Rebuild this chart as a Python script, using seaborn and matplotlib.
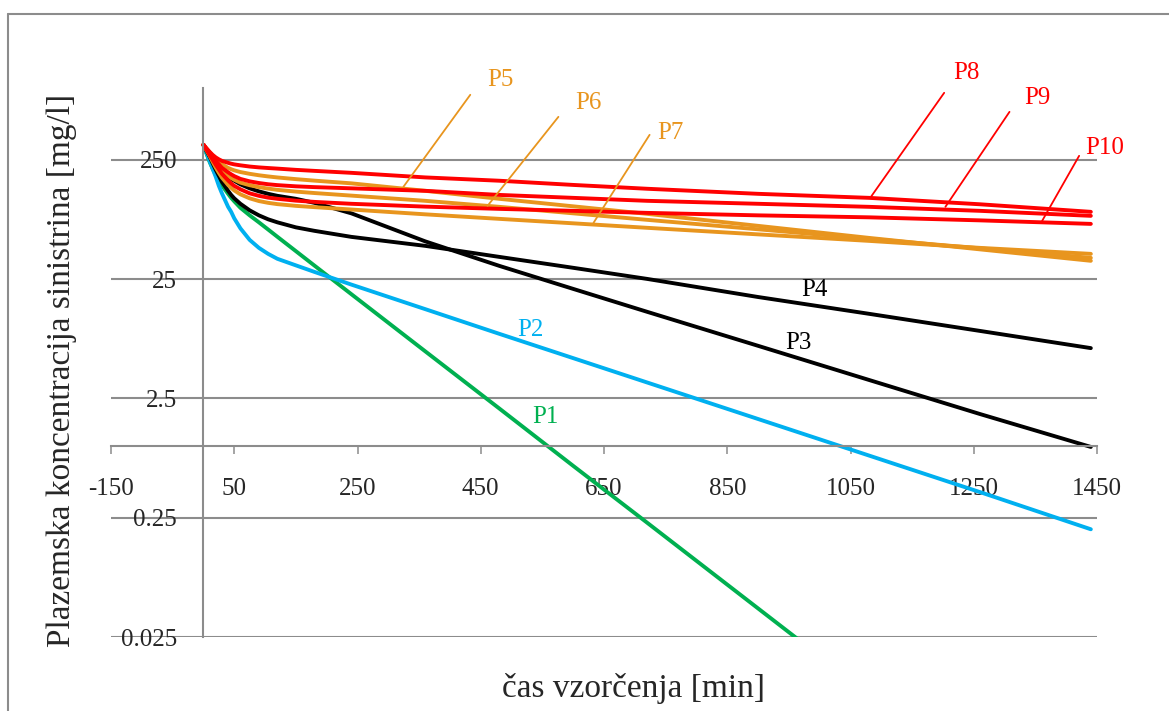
import numpy as np
import pandas as pd
import seaborn as sns
import matplotlib.pyplot as plt
from matplotlib.ticker import FixedLocator, FixedFormatter, NullLocator

sns.set_theme(style='white')
plt.rcParams['font.family'] = ['Liberation Serif', 'DejaVu Serif']
plt.rcParams['axes.unicode_minus'] = False

# sampling times [min]
times = [0, 5, 10, 15, 20, 25, 30, 40, 45, 50, 60, 75, 90, 105, 120, 150, 180,
         240, 360, 480, 600, 720, 900, 1080, 1260, 1440]

# plasma sinistrin concentration [mg/l]
p1 = [334, 281, 240.5, 210, 187, 168, 152.8, 129.7, 120, 112.2, 99, 85.6, 74.8, 65.1,
      56.6, 42.9, 32.5, 18.7, 6.2, 2.06, 0.68, 0.227, 0.0434, 0.0083]
p2 = [334, 286, 245, 210, 180, 151.3, 130.9, 100.9, 91.6, 80.8, 66.6, 53.3, 45.7, 40.7,
      37, 32.6, 28.75, 22.5, 14.0, 8.7, 5.44, 3.40, 1.68, 0.83, 0.41, 0.20]
p3 = [334, 297.5, 270, 245, 227, 212, 198, 180, 173, 167, 155.8, 144.2, 136, 129.7,
      124.8, 117.8, 109, 89, 51.8, 32.3, 20.7, 13.3, 6.9, 3.57, 1.85, 0.98]
p4 = [334, 297.5, 265, 233.7, 206, 183.5, 163.5, 137.4, 127, 118.9, 107, 94.3, 85.6, 79.3,
      74.8, 67.9, 63.5, 56.5, 47.5, 38.4, 31.1, 25.1, 17.7, 12.8, 9.2, 6.6]
p5 = [334, 310, 289, 270, 254, 240.5, 229, 214, 208.5, 204, 197.5, 190.8, 185.6, 181.4,
      177.9, 172.2, 167.3, 158.8, 137.4, 117.8, 101.9, 88.1, 69.9, 55.4, 44.4, 35.6]
p6 = [334, 306, 281, 257, 236.9, 219, 204, 183.5, 175.9, 170, 161, 153.1, 147.6, 143.4,
      140, 135.4, 131.7, 125.3, 113.3, 100.9, 89, 78.5, 65.4, 54.4, 45.3, 37.7]
p7 = [334, 300, 270, 240.5, 215, 194.5, 177.3, 154, 145.6, 138.4, 128.4, 118.9, 112.8, 109,
      106.3, 102.8, 100.3, 95.8, 87.3, 80, 73.4, 67.3, 59.3, 52.3, 45.7, 40.7]
p8 = [334, 312, 292, 275, 262, 252.4, 245, 236, 232, 229, 224.8, 219.6, 216, 213.4,
      211, 206, 202, 194.5, 178, 167, 154, 143, 129.7, 120, 106, 91.6]
p9 = [334, 309, 286, 265, 245, 229, 214, 196.4, 189, 182.5, 173, 165, 159.8, 156,
      153.4, 149.9, 147.6, 144.2, 137.4, 127, 120, 113.3, 107, 100.9, 93.4, 84.8]
p10 = [334, 303, 275, 250, 227, 208, 190.8, 168, 158.8, 151.3, 141.5, 130.9, 124.8, 120.5,
       117.8, 113.7, 111, 107, 101.3, 97, 93.4, 89.8, 85.6, 82.4, 77.7, 72.6]

names = ['P1', 'P2', 'P3', 'P4', 'P5', 'P6', 'P7', 'P8', 'P9', 'P10']
colors = ['#00B050', '#00B0F0', '#000000', '#000000', '#E8951E',
          '#E8951E', '#E8951E', '#FF0000', '#FF0000', '#FF0000']

x_ticks = [-150, 50, 250, 450, 650, 850, 1050, 1250, 1450]
y_ticks = [0.025, 0.25, 2.5, 25, 250]
y_labels = ['0.025', '0.25', '2.5', '25', '250']

# label positions (t, c) and leader lines (start -> tip on curve)
label_pos = {'P1': (555, 1.75), 'P2': (531, 9.4), 'P3': (965, 7.3), 'P4': (991, 20.3),
             'P5': (482, 1172), 'P6': (625, 751), 'P7': (758, 421),
             'P8': (1238, 1341), 'P9': (1353, 828), 'P10': (1463, 315)}
leaders = {'P5': ((433, 877), (324.5, 148.5)), 'P6': ((576, 573), (461, 102.8)),
           'P7': ((724, 405), (633, 74.1)), 'P8': ((1202, 911), (1082, 120)),
           'P9': ((1308, 631), (1204, 100.9)), 'P10': ((1421, 270), (1361, 77))}

series = [p1, p2, p3, p4, p5, p6, p7, p8, p9, p10]
df = pd.concat([pd.DataFrame({'t': times[:len(v)], 'c': v, 'pacient': n})
                for n, v in zip(names, series)], ignore_index=True)
palette = dict(zip(names, colors))

W, H = 1169, 711
fig = plt.figure(figsize=(W / 100, H / 100), dpi=100)
ax = fig.add_axes([111 / W, (H - 637) / H, 986 / W, 549 / H])
ax.set_yscale('log')

sns.lineplot(data=df, x='t', y='c', hue='pacient', hue_order=names, palette=palette,
             estimator=None, sort=False, lw=2.8, legend=False, ax=ax)

ax.set_xlim(-150, 1450)
ax.set_ylim(0.025, 1000)

grid_c = '#8C8C8C'
ax.xaxis.set_major_locator(FixedLocator(x_ticks))
ax.yaxis.set_major_locator(FixedLocator(y_ticks))
ax.yaxis.set_major_formatter(FixedFormatter(y_labels))
ax.yaxis.set_minor_locator(NullLocator())
ax.yaxis.grid(True, color=grid_c, lw=1.5)
ax.xaxis.grid(False)
ax.set_axisbelow(True)

for s in ['top', 'right']:
    ax.spines[s].set_visible(False)
ax.spines['left'].set_position(('data', 0))
ax.spines['bottom'].set_position(('data', 1))
for s in ['left', 'bottom']:
    ax.spines[s].set_color(grid_c)
    ax.spines[s].set_linewidth(1.5)

ax.tick_params(axis='x', direction='out', length=6, width=1.1, color=grid_c,
               labelsize=18, pad=17, bottom=True)
ax.tick_params(axis='y', length=0, labelsize=18, pad=19)

ax.set_xlabel('čas vzorčenja [min]', fontsize=24, va='center')
ax.xaxis.set_label_coords(0.530, -0.093)
ax.set_ylabel('Plazemska koncentracija sinistrina [mg/l]', fontsize=24, va='center')
ax.yaxis.set_label_coords(-0.0497, 0.486)

for n, c in zip(names, colors):
    tx, ty = label_pos[n]
    ax.text(tx, ty, n, color=c, fontsize=18, ha='center', va='center', clip_on=False)
    if n in leaders:
        (x0, y0), (x1, y1) = leaders[n]
        ax.annotate('', xy=(x1, y1), xytext=(x0, y0),
                    arrowprops=dict(arrowstyle='-', color=c, lw=1.3,
                                    shrinkA=0, shrinkB=0), annotation_clip=False)

# chart area border
fig.add_artist(plt.Line2D([8 / W, 1], [1 - 14 / H] * 2, transform=fig.transFigure,
                          color=grid_c, lw=1.5))
fig.add_artist(plt.Line2D([8 / W, 8 / W], [0, 1 - 14 / H], transform=fig.transFigure,
                          color=grid_c, lw=1.5))

fig.savefig('out.png', dpi=100)
